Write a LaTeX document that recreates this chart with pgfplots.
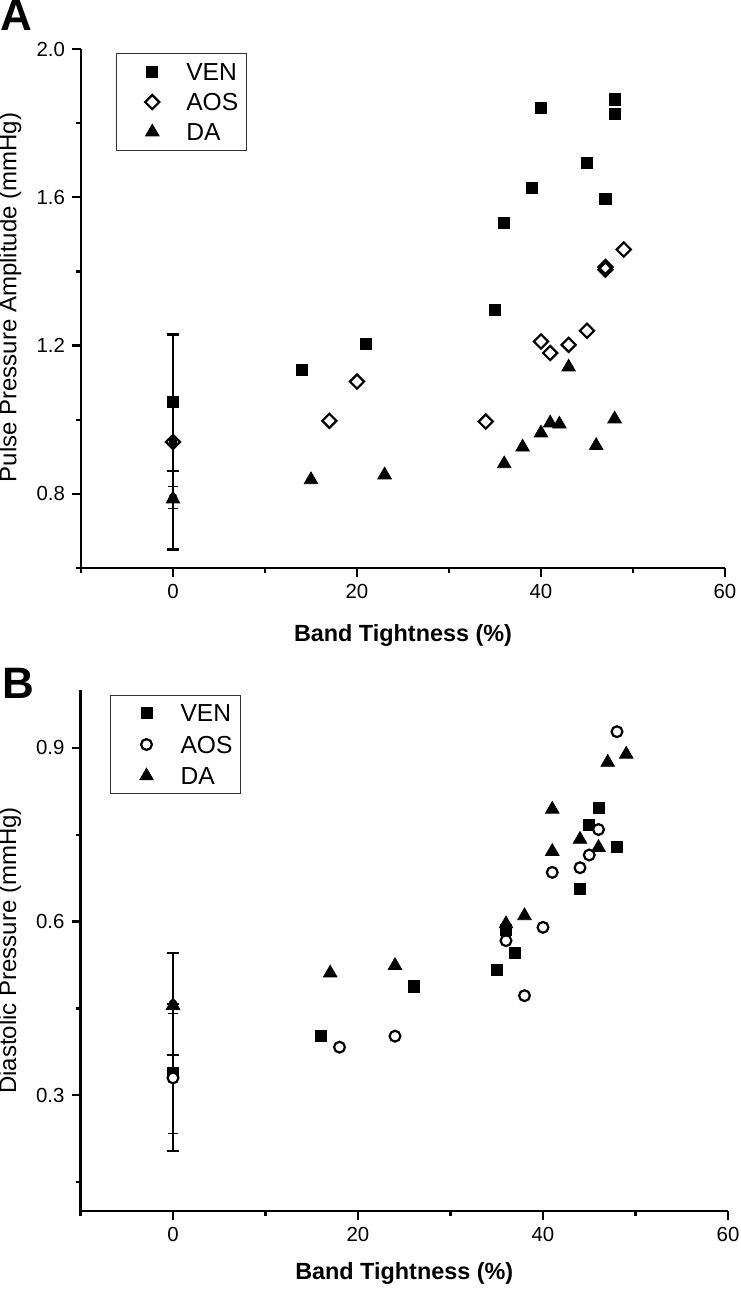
\documentclass[border=0pt]{standalone}
\usepackage{pgfplots}
\pgfplotsset{compat=1.18}
\usepackage{fontspec}
\setmainfont{Liberation Sans}
\begin{document}
\begin{tikzpicture}
\useasboundingbox (0pt,0pt) rectangle (370pt,-644.5pt);
\pgfplotsset{
  common/.style={
    scale only axis,
    axis x line*=bottom, axis y line*=left,
    axis line style={-, line width=1.1pt, black},
    tick style={black, line width=1.1pt},
    tick align=outside,
    major tick length=4.5pt, minor tick length=2.5pt,
    xmin=-10, xmax=60,
    xtick={0,20,40,60}, xticklabels={0,20,40,60},
    minor xtick={-10,10,30,50},
    tick label style={font=\fontsize{10.2}{12}\selectfont},
    xlabel style={font=\bfseries\fontsize{11.7}{13}\selectfont, anchor=center},
    ylabel style={font=\fontsize{12}{13}\selectfont, anchor=center},
    clip=false,
    legend cell align=left,
  },
  ebar/.style={only marks, mark=none, forget plot,
    error bars/.cd, y dir=both, y explicit,
    error bar style={line width=1.1pt, black},
    error mark options={rotate=90, line width=1.1pt, mark size=3pt, black}},
  ebarthin/.style={only marks, mark=none, forget plot,
    error bars/.cd, y dir=both, y explicit,
    error bar style={line width=0.5pt, black},
    error mark options={rotate=90, line width=0.5pt, mark size=2.5pt, black}},
  myleg/.style={legend image code/.code={\path[draw=none, fill=none] (0pt,0pt) rectangle (31pt,0.1pt); \draw[##1, only marks] plot coordinates {(18pt,0pt)};}},
  ven/.style={only marks, mark=square*, mark size=2.8pt, mark options={fill=black, draw=black, line width=0.4pt}, myleg},
  aosd/.style={only marks, mark=square, mark size=2.5pt, mark options={rotate=45, fill=white, draw=black, line width=1.1pt}, myleg},
  aosc/.style={only marks, mark=*, mark size=2.7pt, mark options={fill=white, draw=black, line width=1.1pt}, myleg},
  da/.style={only marks, mark=triangle*, mark size=3.9pt, mark options={fill=black, draw=black, line width=0.4pt}, myleg},
}
\node[font=\bfseries\fontsize{22}{24}\selectfont, inner sep=0pt, anchor=north west] at (0pt,0pt) {A};
\node[font=\bfseries\fontsize{22}{24}\selectfont, inner sep=0pt, anchor=north west] at (1pt,-334pt) {B};

% Panel A
\begin{axis}[common,
  at={(40.5pt,-284pt)}, anchor=south west,
  width=322pt, height=259.5pt,
  ymin=0.6, ymax=2.0,
  ytick={0.8,1.2,1.6,2.0}, yticklabels={0.8,1.2,1.6,2.0},
  minor ytick={0.6,1.0,1.4,1.8},
  xlabel={Band Tightness (\%)},
  ylabel={Pulse Pressure Amplitude (mmHg)},
  xlabel style={at={(axis description cs:0.5,-0.131)}},
  ylabel style={at={(axis description cs:-0.110,0.521)}},
  legend style={at={(0.054,0.992)}, anchor=north west, draw=black!80, line width=0.5pt,
    inner xsep=0pt, inner ysep=3.8pt, column sep=0pt, row sep=4.2pt,
    font=\fontsize{12.3}{14}\selectfont,
    nodes={inner xsep=4pt, inner ysep=1pt, text height=8.8pt, text depth=0pt}},
]
\addplot[ebar] coordinates {(0,1.047) +- (0,0.185)};
\addplot[ebar] coordinates {(0,0.94) +- (0,0.29)};
\addplot[ebarthin] coordinates {(0,0.79) +- (0,0.03)};
\addplot[ven] coordinates {(0,1.047) (14,1.135) (21,1.205) (35,1.297) (36,1.531) (39,1.625) (40,1.842) (45,1.692) (47,1.596) (48,1.864) (48,1.824)};
\addlegendentry{VEN}
\addplot[aosd] coordinates {(0,0.94) (17,0.997) (20,1.103) (34,0.995) (40,1.211) (41,1.180) (43,1.202) (45,1.24) (47,1.405) (47,1.412) (49,1.459)};
\addlegendentry{AOS}
\addplot[da] coordinates {(0,0.786) (15,0.838) (23,0.851) (36,0.881) (38,0.926) (40,0.964) (41,0.991) (42,0.988) (43,1.142) (46,0.930) (48,1.002)};
\addlegendentry{DA}
\end{axis}

% Panel B
\begin{axis}[common,
  at={(40.25pt,-605.5pt)}, anchor=south west,
  width=323.75pt, height=260.5pt,
  ymin=0.1, ymax=1.0,
  ytick={0.3,0.6,0.9}, yticklabels={0.3,0.6,0.9},
  minor ytick={0.15,0.45,0.75},
  xlabel={Band Tightness (\%)},
  ylabel={Diastolic Pressure (mmHg)},
  xlabel style={at={(axis description cs:0.5,-0.119)}},
  ylabel style={at={(axis description cs:-0.109,0.5)}},
  legend style={at={(0.0456,0.990)}, anchor=north west, draw=black!80, line width=0.5pt,
    inner xsep=0pt, inner ysep=3.3pt, column sep=0pt, row sep=4.9pt,
    font=\fontsize{12.3}{14}\selectfont,
    nodes={inner xsep=4pt, inner ysep=1pt, text height=8.8pt, text depth=0pt}},
]
\addplot[ebar] coordinates {(0,0.458) +- (0,0.088)};
\addplot[ebarthin] coordinates {(0,0.338) +- (0,0.104)};
\addplot[ebar] coordinates {(0,0.33) +- (0,0.127)};
\addplot[ven] coordinates {(0,0.338) (16,0.402) (26,0.488) (35,0.517) (36,0.585) (37,0.546) (44,0.656) (45,0.767) (46,0.796) (48,0.729)};
\addlegendentry{VEN}
\addplot[aosc] coordinates {(0,0.33) (18,0.383) (24,0.402) (36,0.567) (38,0.472) (40,0.59) (41,0.685) (44,0.693) (45,0.715) (46,0.759) (48,0.928)};
\addlegendentry{AOS}
\addplot[da] coordinates {(0,0.455) (17,0.511) (24,0.524) (36,0.596) (38,0.610) (41,0.794) (41,0.721) (44,0.742) (46,0.728) (47,0.875) (49,0.889)};
\addlegendentry{DA}
\end{axis}
\end{tikzpicture}
\end{document}
